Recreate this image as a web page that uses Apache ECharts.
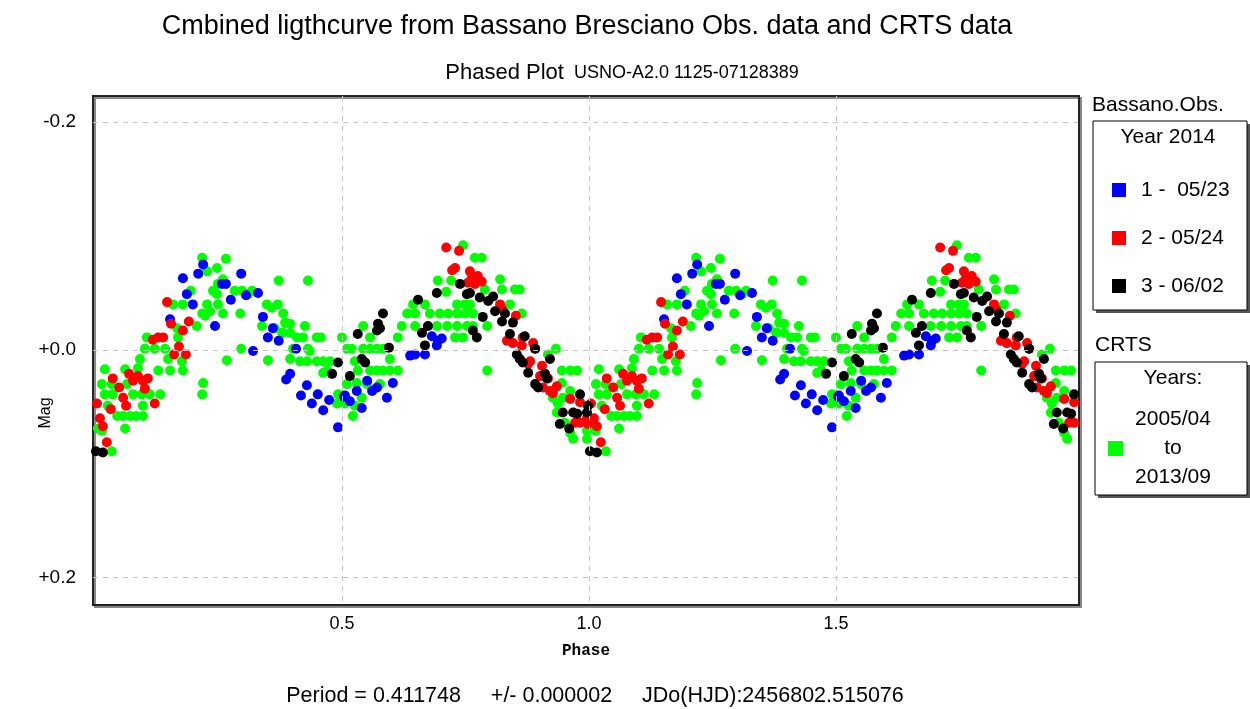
<!DOCTYPE html>
<html>
<head>
<meta charset="utf-8">
<script src="https://cdn.jsdelivr.net/npm/echarts@6/dist/echarts.min.js"></script>
<style>
  html, body { margin: 0; padding: 0; background: #fff; }
  #chart { width: 1250px; height: 709px; }
</style>
</head>
<body>
<div id="chart"></div>
<script>
// phase (0..1), mag  -- second cycle is the same points shifted by +1
const obs0523 = [
  [0.219, -0.075], [0.178, -0.063], [0.209, -0.067], [0.186, -0.049], [0.198, -0.040],
  [0.152, -0.027], [0.243, -0.021], [0.257, -0.058], [0.265, -0.058], [0.275, -0.044],
  [0.296, -0.067], [0.306, -0.048], [0.330, -0.050], [0.340, -0.029], [0.360, -0.019],
  [0.350, -0.011], [0.372, -0.008], [0.407, -0.001], [0.320, 0.001], [0.395, 0.021],
  [0.387, 0.026], [0.429, 0.031], [0.417, 0.040], [0.451, 0.039], [0.439, 0.047],
  [0.474, 0.044], [0.462, 0.053], [0.504, 0.041], [0.492, 0.068],
  [0.682, -0.012], [0.694, -0.008], [0.702, -0.010], [0.692, -0.004], [0.638, 0.005],
  [0.648, 0.004], [0.668, 0.004], [0.603, 0.029], [0.551, 0.027], [0.561, 0.036],
  [0.571, 0.033], [0.530, 0.036], [0.506, 0.040], [0.516, 0.045], [0.540, 0.051],
  [0.591, 0.042]
];
const obs0524 = [
  [0.146, -0.042], [0.154, -0.023], [0.190, -0.025], [0.178, -0.017], [0.117, -0.009],
  [0.128, -0.011], [0.138, -0.011], [0.170, -0.003], [0.160, 0.004], [0.184, 0.004],
  [0.036, 0.025], [0.049, 0.033], [0.069, 0.021], [0.077, 0.027], [0.087, 0.023],
  [0.097, 0.027], [0.107, 0.025], [0.101, 0.034], [0.057, 0.042], [0.063, 0.049],
  [0.121, 0.047], [0.004, 0.047], [0.032, 0.052], [0.010, 0.060], [0.016, 0.067],
  [0.024, 0.081],
  [0.711, -0.090], [0.737, -0.087], [0.729, -0.072], [0.723, -0.070], [0.759, -0.069],
  [0.763, -0.063], [0.775, -0.065], [0.769, -0.058], [0.783, -0.060], [0.755, -0.059],
  [0.820, -0.040], [0.824, -0.036], [0.852, -0.030], [0.834, -0.008], [0.846, -0.006],
  [0.864, -0.004], [0.866, -0.011], [0.887, -0.006], [0.891, -0.001], [0.881, 0.010],
  [0.877, 0.012], [0.905, 0.014], [0.901, 0.023], [0.917, 0.025], [0.907, 0.033],
  [0.921, 0.036], [0.935, 0.032], [0.927, 0.038], [0.962, 0.043], [0.982, 0.046],
  [0.972, 0.064], [0.982, 0.064], [0.996, 0.060], [0.998, 0.065]
];
const obs0602 = [
  [0.002, 0.089], [0.016, 0.090], [0.492, 0.011], [0.480, 0.021], [0.516, 0.023],
  [0.532, -0.014], [0.540, 0.008], [0.547, 0.011], [0.571, -0.017], [0.577, -0.019],
  [0.583, -0.032], [0.573, -0.023], [0.595, -0.002], [0.654, -0.044], [0.692, -0.050],
  [0.662, -0.015], [0.674, -0.021], [0.668, -0.004], [0.739, -0.058], [0.753, -0.049],
  [0.759, -0.050], [0.765, -0.017], [0.773, -0.011], [0.779, -0.046], [0.796, -0.043],
  [0.806, -0.047], [0.785, -0.029], [0.810, -0.034], [0.830, -0.032], [0.824, -0.025],
  [0.846, -0.024], [0.840, -0.014], [0.870, -0.012], [0.891, -0.001], [0.854, 0.004],
  [0.860, 0.008], [0.866, 0.011], [0.877, 0.020], [0.891, 0.030], [0.897, 0.033],
  [0.911, 0.021], [0.915, 0.025], [0.921, 0.008], [0.982, 0.039], [0.998, 0.049],
  [0.996, 0.055], [0.947, 0.055], [0.968, 0.055], [0.976, 0.056], [0.941, 0.065],
  [0.960, 0.069]
];
const crts = [
  [0.217, -0.081], [0.265, -0.080], [0.227, -0.069], [0.247, -0.072], [0.259, -0.062],
  [0.249, -0.058], [0.239, -0.052], [0.247, -0.049], [0.372, -0.061], [0.431, -0.061],
  [0.194, -0.052], [0.178, -0.040], [0.158, -0.040], [0.283, -0.052], [0.298, -0.052],
  [0.318, -0.052], [0.310, -0.049], [0.227, -0.040], [0.249, -0.040], [0.233, -0.034],
  [0.217, -0.032], [0.223, -0.030], [0.259, -0.032], [0.294, -0.032], [0.348, -0.040],
  [0.370, -0.040], [0.358, -0.037], [0.381, -0.032], [0.385, -0.024], [0.395, -0.023],
  [0.338, -0.021], [0.364, -0.019], [0.379, -0.015], [0.395, -0.015], [0.425, -0.021],
  [0.409, -0.011], [0.421, -0.011], [0.449, -0.011], [0.457, -0.011], [0.500, -0.011],
  [0.206, -0.021], [0.166, -0.019], [0.168, -0.011], [0.105, -0.011], [0.101, -0.001],
  [0.121, -0.001], [0.142, -0.001], [0.296, -0.001], [0.350, 0.009], [0.267, 0.009],
  [0.395, 0.008], [0.415, 0.010], [0.435, 0.001], [0.429, 0.010], [0.449, 0.010],
  [0.462, 0.010], [0.476, 0.010], [0.401, -0.001], [0.431, -0.001], [0.510, -0.001],
  [0.462, 0.020], [0.470, 0.018], [0.091, 0.008], [0.087, 0.016], [0.148, 0.008],
  [0.152, 0.018], [0.128, 0.018], [0.176, 0.010], [0.178, 0.018], [0.020, 0.017],
  [0.014, 0.030], [0.020, 0.039], [0.026, 0.049], [0.006, 0.069], [0.014, 0.071],
  [0.034, 0.030], [0.036, 0.039], [0.061, 0.017], [0.065, 0.030], [0.077, 0.039],
  [0.095, 0.039], [0.111, 0.039], [0.132, 0.039], [0.097, 0.049], [0.097, 0.058],
  [0.045, 0.058], [0.057, 0.058], [0.071, 0.058], [0.083, 0.058], [0.061, 0.069],
  [0.034, 0.089], [0.219, 0.029], [0.217, 0.039], [0.490, 0.047], [0.506, 0.047],
  [0.492, 0.039],
  [0.745, -0.092], [0.769, -0.081], [0.783, -0.081], [0.694, -0.061], [0.721, -0.061],
  [0.711, -0.051], [0.820, -0.062], [0.824, -0.053], [0.850, -0.053], [0.860, -0.053],
  [0.789, -0.053], [0.840, -0.040], [0.864, -0.032], [0.644, -0.040], [0.668, -0.040],
  [0.648, -0.032], [0.632, -0.032], [0.621, -0.021], [0.613, -0.011], [0.648, -0.021],
  [0.678, -0.032], [0.698, -0.032], [0.715, -0.032], [0.733, -0.032], [0.749, -0.032],
  [0.765, -0.032], [0.733, -0.040], [0.749, -0.040], [0.759, -0.040], [0.733, -0.021],
  [0.753, -0.021], [0.692, -0.021], [0.713, -0.021], [0.729, -0.011], [0.745, -0.011],
  [0.765, -0.021], [0.794, -0.021], [0.520, -0.001], [0.543, -0.021], [0.557, -0.011],
  [0.543, -0.001], [0.557, -0.001], [0.571, -0.001], [0.583, -0.001], [0.597, 0.008],
  [0.526, 0.010], [0.532, 0.018], [0.557, 0.018], [0.571, 0.018], [0.583, 0.018],
  [0.597, 0.018], [0.613, 0.018], [0.510, 0.030], [0.530, 0.029], [0.551, 0.030],
  [0.577, 0.030], [0.526, 0.049], [0.522, 0.058], [0.540, 0.042], [0.794, 0.018],
  [0.933, -0.001], [0.917, 0.004], [0.945, 0.018], [0.962, 0.018], [0.976, 0.018],
  [0.945, 0.029], [0.927, 0.042], [0.937, 0.047], [0.947, 0.042], [0.962, 0.036],
  [0.935, 0.055], [0.951, 0.064], [0.968, 0.078], [0.996, 0.078], [0.962, 0.073],
  [0.996, 0.071]
];

const xTicks = [0.5, 1.0, 1.5];
const yTicks = [-0.2, 0.0, 0.2];

function twoCycles(pts) {
  return pts.concat(pts.map(function (d) { return [d[0] + 1, d[1]]; }));
}

const gridLines = xTicks.map(function (v) { return { xAxis: v }; })
  .concat(yTicks.map(function (v) { return { yAxis: v }; }));

const chart = echarts.init(document.getElementById('chart'), null, { renderer: 'canvas' });

function dots(name, color, pts) {
  return {
    name: name,
    type: 'scatter',
    data: twoCycles(pts),
    symbol: 'circle',
    symbolSize: 10,
    itemStyle: { color: color, opacity: 1 },
    emphasis: { disabled: true },
    animation: false
  };
}

const crtsSeries = dots('CRTS', '#00ff00', crts);
crtsSeries.markLine = {
  silent: true,
  symbol: 'none',
  label: { show: false },
  lineStyle: { color: '#c4c4c4', type: [5, 5], width: 1 },
  data: gridLines,
  animation: false
};

chart.setOption({
  backgroundColor: '#fff',
  textStyle: { fontFamily: 'Liberation Sans' },
  title: [
    {
      text: 'Cmbined ligthcurve from Bassano Bresciano Obs. data and CRTS data',
      left: 582, top: 8, textAlign: 'center',
      textStyle: { fontSize: 27, fontWeight: 'normal', color: '#000' }
    },
    {
      text: '{a|Phased Plot}{b|  USNO-A2.0 1125-07128389}',
      left: 617, top: 57, textAlign: 'center',
      textStyle: {
        fontWeight: 'normal',
        rich: {
          a: { fontSize: 22, fontWeight: 'normal', color: '#000', fontFamily: 'Liberation Sans' },
          b: { fontSize: 18, fontWeight: 'normal', color: '#000', fontFamily: 'Liberation Sans' }
        }
      }
    },
    {
      text: 'Period = 0.411748     +/- 0.000002     JDo(HJD):2456802.515076',
      left: 590, top: 680, textAlign: 'center',
      textStyle: { fontSize: 21.5, fontWeight: 'normal', color: '#000' }
    }
  ],
  grid: {
    left: 93, top: 96, right: 171, bottom: 104,
    show: true,
    backgroundColor: '#fff',
    borderColor: '#222',
    borderWidth: 2,
    shadowColor: '#888',
    shadowOffsetX: 2,
    shadowOffsetY: 2,
    shadowBlur: 0
  },
  xAxis: {
    type: 'value',
    min: -0.004,
    max: 1.992,
    name: 'Phase',
    nameLocation: 'middle',
    nameGap: 38,
    nameTextStyle: { fontFamily: 'Liberation Mono', fontWeight: 'bold', fontSize: 16, color: '#000' },
    axisLine: { show: false },
    axisTick: { show: false },
    splitLine: { show: false },
    axisLabel: {
      customValues: xTicks,
      margin: 10,
      fontSize: 18,
      color: '#000',
      formatter: function (v) { return v.toFixed(1); }
    }
  },
  yAxis: {
    type: 'value',
    inverse: true,
    min: -0.223,
    max: 0.224,
    axisLine: { show: false },
    axisTick: { show: false },
    splitLine: { show: false },
    axisLabel: {
      customValues: yTicks,
      margin: 17,
      fontSize: 19,
      color: '#000',
      formatter: function (v) { return (v < 0 ? '-' : '+') + Math.abs(v).toFixed(1); }
    }
  },
  legend: [
    {
      data: ['1 -  05/23', '2 - 05/24', '3 - 06/02'],
      orient: 'vertical',
      left: 1107, top: 174,
      icon: 'rect',
      itemWidth: 14, itemHeight: 14,
      itemGap: 26,
      selectedMode: false,
      textStyle: { fontSize: 21, lineHeight: 22, color: '#000', padding: [0, 0, 0, 10] }
    },
    {
      data: ['CRTS'],
      orient: 'vertical',
      left: 1103, top: 404,
      icon: 'rect',
      itemWidth: 15, itemHeight: 15,
      selectedMode: false,
      formatter: function () { return '{a|2005/04}\n{a|to}\n{a|2013/09}'; },
      textStyle: {
        color: '#000',
        rich: { a: { fontSize: 21, lineHeight: 29, width: 90, align: 'center', color: '#000' } }
      }
    }
  ],
  graphic: [
    { type: 'rect', shape: { x: 1096, y: 124, width: 154, height: 189 }, style: { fill: '#555' }, silent: true },
    { type: 'rect', shape: { x: 1093, y: 121, width: 154, height: 189 }, style: { fill: '#fff', stroke: '#000', lineWidth: 1 }, silent: true },
    { type: 'rect', shape: { x: 1098, y: 365, width: 152, height: 133 }, style: { fill: '#555' }, silent: true },
    { type: 'rect', shape: { x: 1095, y: 362, width: 152, height: 133 }, style: { fill: '#fff', stroke: '#000', lineWidth: 1 }, silent: true },
    { type: 'text', left: 1092, top: 95, style: { text: 'Bassano.Obs.', font: '21px "Liberation Sans"', fill: '#000' }, silent: true },
    { type: 'text', x: 1168, y: 137, style: { text: 'Year 2014', font: '21px "Liberation Sans"', fill: '#000', align: 'center', verticalAlign: 'middle' }, silent: true },
    { type: 'text', left: 1095, top: 335, style: { text: 'CRTS', font: '21px "Liberation Sans"', fill: '#000' }, silent: true },
    { type: 'text', x: 1173, y: 378, style: { text: 'Years:', font: '21px "Liberation Sans"', fill: '#000', align: 'center', verticalAlign: 'middle' }, silent: true },
    { type: 'text', x: 46, y: 413, rotation: Math.PI / 2, style: { text: 'Mag', font: '16px "Liberation Sans"', fill: '#000', align: 'center', verticalAlign: 'middle' }, silent: true }
  ],
  series: [
    crtsSeries,
    dots('1 -  05/23', '#0000ff', obs0523),
    dots('2 - 05/24', '#ff0000', obs0524),
    dots('3 - 06/02', '#000000', obs0602)
  ]
});
</script>
</body>
</html>
